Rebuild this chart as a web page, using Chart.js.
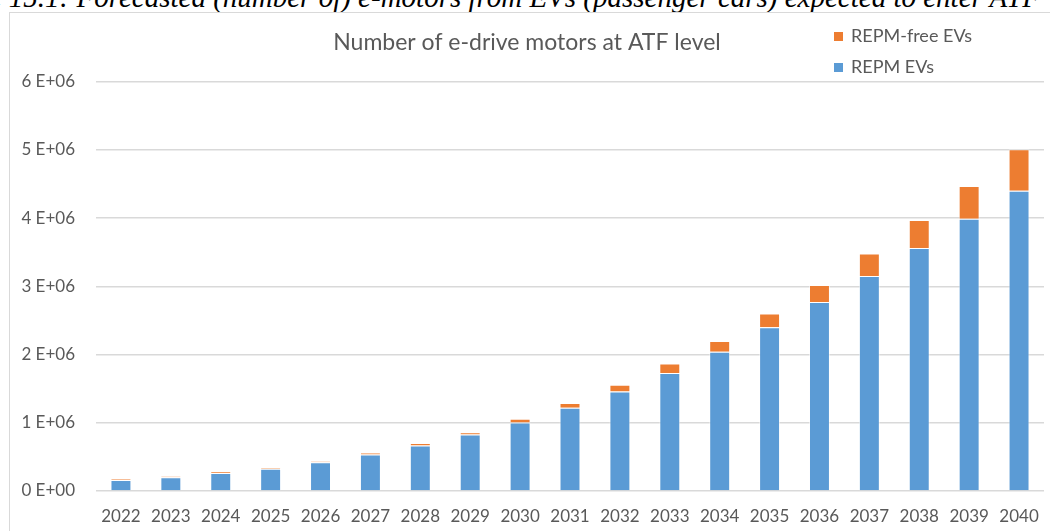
<!DOCTYPE html>
<html>
<head>
<meta charset="utf-8">
<script src="https://cdn.jsdelivr.net/npm/chart.js@4.4.1/dist/chart.umd.min.js"></script>
<style>
    html, body {
        margin: 0;
        padding: 0;
        width: 1050px;
        height: 531px;
        overflow: hidden;
        background: #fff;
    }
    .caption {
        position: absolute;
        right: 10px;
        top: -17px;
        white-space: nowrap;
        font-family: "Liberation Serif", "DejaVu Serif", serif;
        font-style: italic;
        font-size: 29px;
        line-height: 29px;
        color: #000;
    }
    .box {
        position: absolute;
        left: 9px;
        top: 12px;
        width: 1060px;
        height: 540px;
        border: 1px solid #d9d9d9;
        background: #fff;
    }
    #myChart {
        position: absolute;
        left: 0;
        top: 0;
    }
</style>
</head>
<body>
<div class="caption">Figure 15.1: Forecasted (number of) e-motors from EVs (passenger cars) expected to enter ATF</div>
<div class="box">
    <canvas id="myChart" width="1041" height="519" style="width:1041px;height:519px"></canvas>
</div>
<script>
const years = ['2022', '2023', '2024', '2025', '2026', '2027', '2028', '2029', '2030', '2031',
    '2032', '2033', '2034', '2035', '2036', '2037', '2038', '2039', '2040'];

// motors from EVs with rare-earth permanent magnets
const repmEVs = [160000, 200000, 265000, 325000, 420000, 536000, 665000, 827000, 1005000, 1220000,
    1460000, 1730000, 2040000, 2400000, 2770000, 3150000, 3560000, 3990000, 4400000];

// motors from REPM-free EVs (stacked on top)
const repmFreeEVs = [20000, 15000, 20000, 20000, 15000, 24000, 40000, 33000, 55000, 70000,
    96000, 140000, 160000, 200000, 250000, 330000, 410000, 480000, 610000];

const yTicks = [0, 1000000, 2000000, 3000000, 4000000, 5000000, 6000000];

const textColor = '#595959';
const fontFamily = 'Lato, "Open Sans", sans-serif';

function tickLabel(value) {
    if (value === 0) return '0 E+00';
    return (value / 1000000) + ' E+06';
}

// vertical legend in the top right corner, last dataset listed first
const cornerLegend = {
    id: 'cornerLegend',
    afterDraw(chart) {
        const c = chart.ctx;
        const items = chart.data.datasets.slice().reverse();
        c.save();
        c.font = '18px ' + fontFamily;
        c.textBaseline = 'middle';
        items.forEach((ds, i) => {
            const y = 23 + i * 31;
            c.fillStyle = ds.backgroundColor;
            c.fillRect(824, y - 4, 9, 9);
            c.fillStyle = textColor;
            c.fillText(ds.label, 841, y);
        });
        c.restore();
    }
};

const ctx = document.getElementById('myChart');

const motorsChart = new Chart(ctx, {
    type: 'bar',
    data: {
        labels: years,
        datasets: [{
            label: 'REPM EVs',
            data: repmEVs,
            backgroundColor: '#5b9bd5',
            borderColor: 'rgba(255,255,255,0.5)',
            borderWidth: 1,
            categoryPercentage: 1,
            barPercentage: 0.42
        }, {
            label: 'REPM-free EVs',
            data: repmFreeEVs,
            backgroundColor: '#ed7d31',
            borderColor: 'rgba(255,255,255,0.5)',
            borderWidth: 1,
            categoryPercentage: 1,
            barPercentage: 0.42
        }]
    },
    options: {
        responsive: false,
        animation: false,
        layout: {
            padding: { left: 0, right: 7, top: 0, bottom: 0 }
        },
        plugins: {
            legend: { display: false },
            tooltip: { enabled: false },
            title: {
                display: true,
                text: 'Number of e-drive motors at ATF level',
                color: textColor,
                font: { family: fontFamily, size: 23, weight: 'normal' },
                padding: { top: 16, bottom: 25 }
            }
        },
        scales: {
            x: {
                stacked: true,
                afterFit(scale) {
                    scale.height = 41;
                },
                grid: { display: false },
                border: { display: false },
                ticks: {
                    color: textColor,
                    font: { family: fontFamily, size: 17 },
                    maxRotation: 0,
                    autoSkip: false,
                    padding: 7
                }
            },
            y: {
                stacked: true,
                min: 0,
                max: 6000000,
                afterBuildTicks(scale) {
                    scale.ticks = yTicks.map(v => ({ value: v }));
                },
                afterFit(scale) {
                    scale.width = 86;
                },
                grid: {
                    color: '#d9d9d9',
                    lineWidth: 1.5,
                    drawTicks: false
                },
                border: { display: false },
                ticks: {
                    color: textColor,
                    font: { family: fontFamily, size: 17 },
                    padding: 21,
                    callback: tickLabel
                }
            }
        }
    },
    plugins: [cornerLegend]
});
</script>
</body>
</html>
